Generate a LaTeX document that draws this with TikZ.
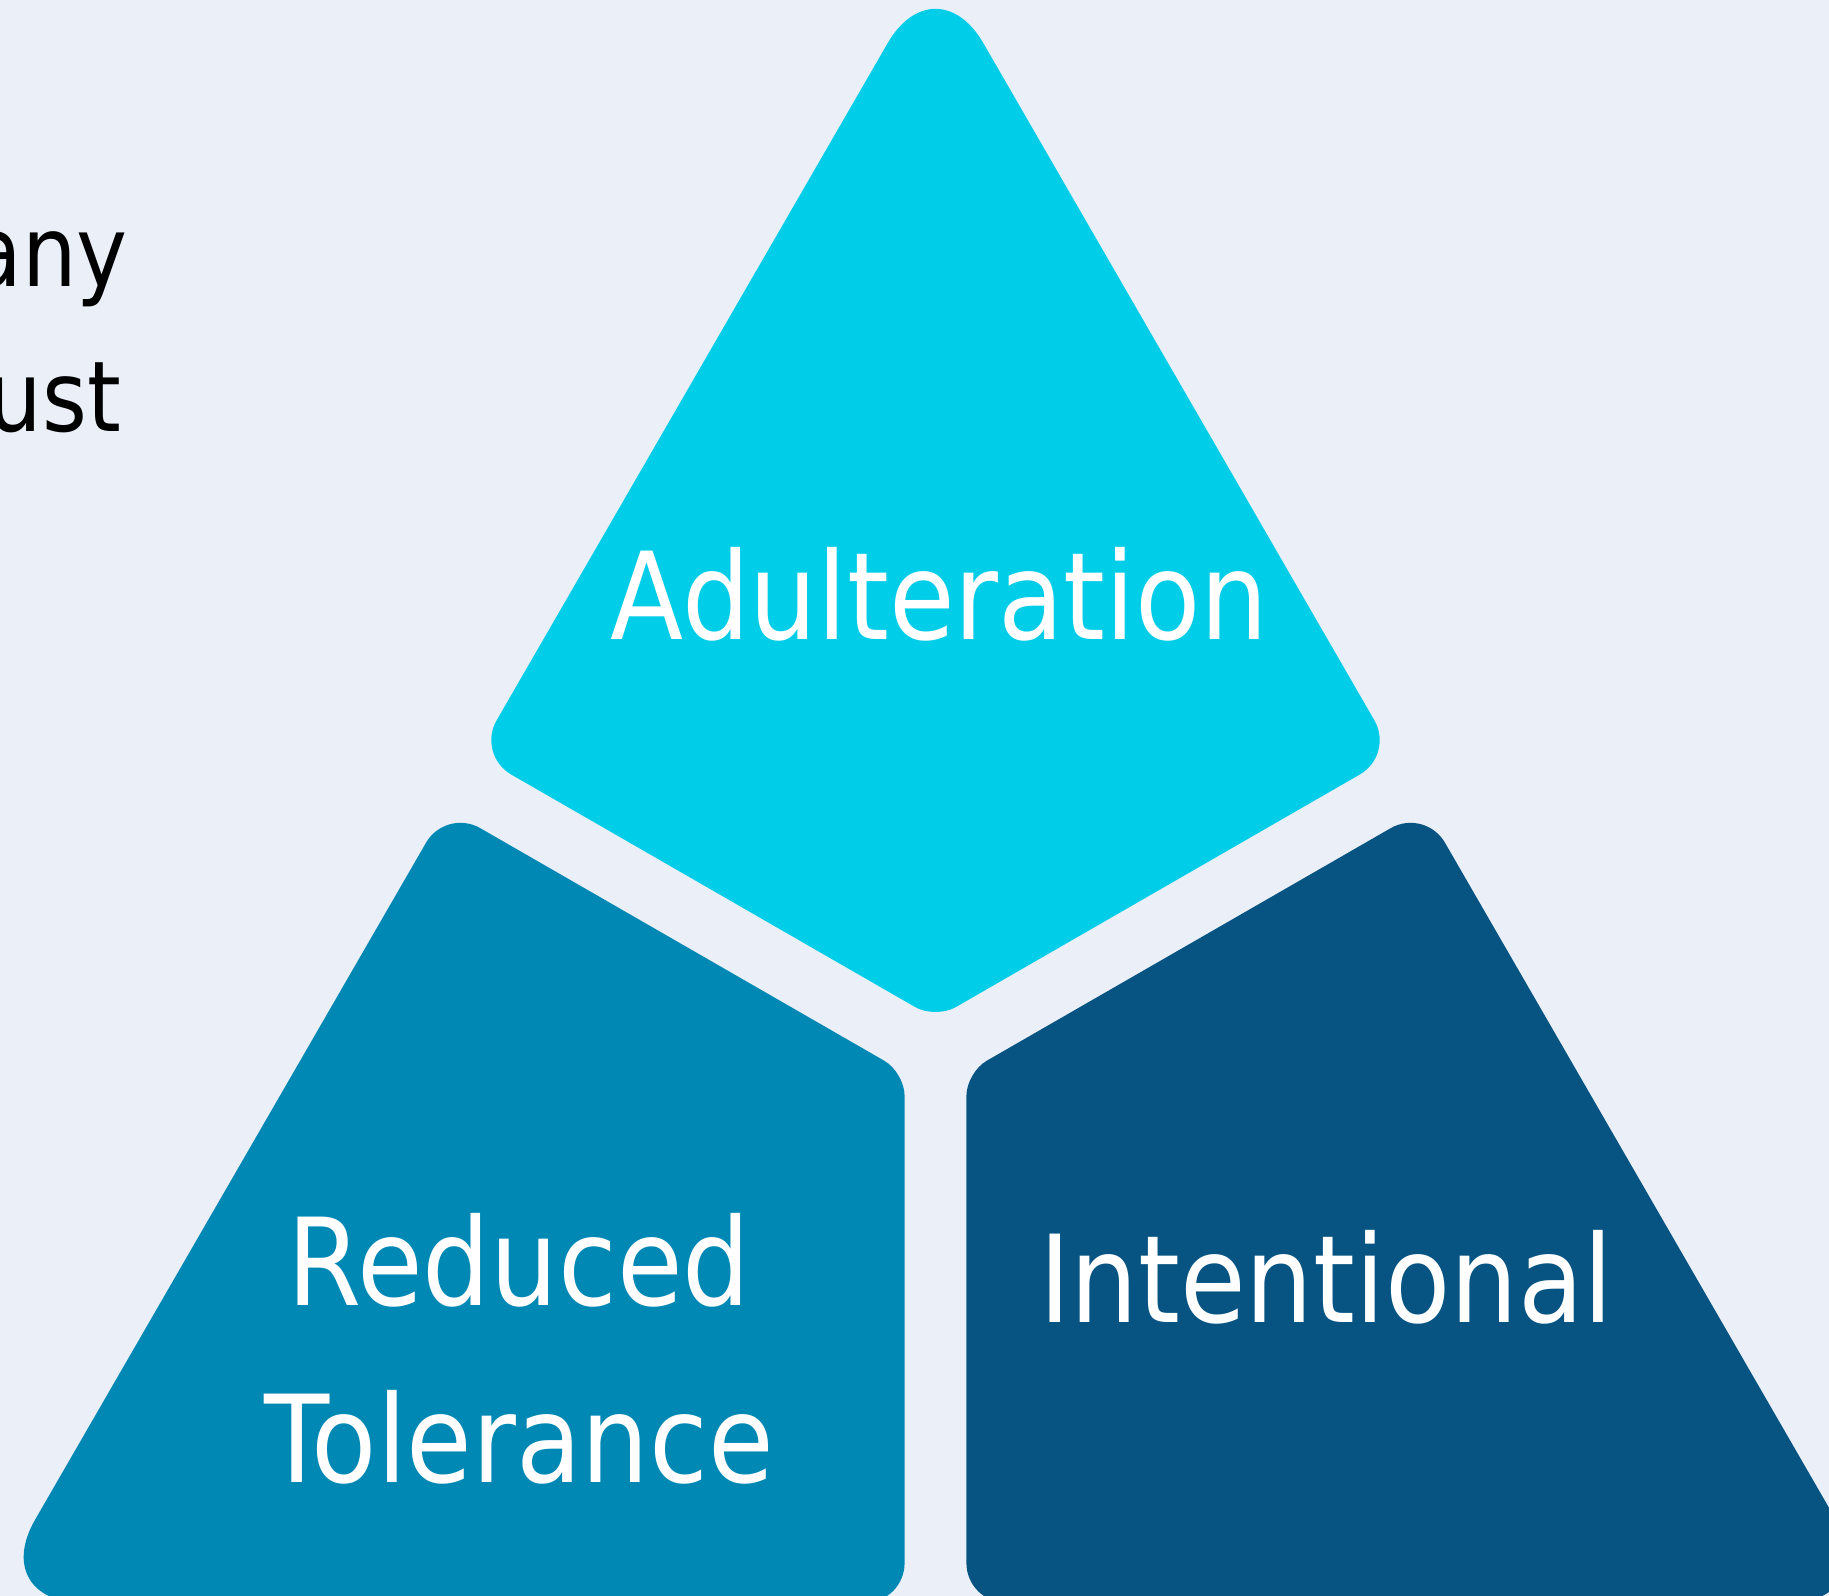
\documentclass[tikz,border=0pt]{standalone}
\usepackage{fontspec}
\usetikzlibrary{calc}
\newfontfamily\segfont[FakeStretch=0.88]{DejaVu Sans}
\definecolor{pagebg}{HTML}{EBF0F8}
\definecolor{segtop}{HTML}{00CDE8}
\definecolor{segleft}{HTML}{0088B5}
\definecolor{segright}{HTML}{075483}
\tikzset{
  seglabel/.style={text=white,font=\segfont\fontsize{52}{76}\selectfont,
    align=center,anchor=base,inner sep=0pt},
  sidetext/.style={text=black,font=\segfont\fontsize{42}{62}\selectfont,
    anchor=base east,inner sep=0pt},
  bigcorner/.style={rounded corners=41pt},
  midcorner/.style={rounded corners=17pt},
  smallcorner/.style={rounded corners=10pt}
}

\begin{document}
\begin{tikzpicture}[x=0.5pt,y=-0.5pt]
\useasboundingbox (0,0) rectangle (1568,1368);
\clip (0,0) rectangle (1568,1368);
\fill[pagebg] (0,0) rectangle (1568,1368);

% corners of the split triangle
\coordinate (A)  at (802,-34);
\coordinate (TL) at (408.75,647);
\coordinate (TB) at (802,873.4);
\coordinate (TR) at (1195.25,647);
\coordinate (BL) at (-11,1374);
\coordinate (LT) at (382.25,693);
\coordinate (LR) at (775.5,919.4);
\coordinate (LB) at (775.5,1374);
\coordinate (BR) at (1615,1374);
\coordinate (RT) at (1221.75,693);
\coordinate (RL) at (828.5,919.4);
\coordinate (RB) at (828.5,1374);

% the corner option goes in front of the segment that reaches the corner
\fill[segtop] ($(TL)!.5!(TB)$) [smallcorner] -- (TB) [midcorner] -- (TR)
  [bigcorner] -- (A) [midcorner] -- (TL) -- cycle;
\fill[segleft] ($(LT)!.5!(LR)$) [smallcorner] -- (LR) [midcorner] -- (LB)
  [bigcorner] -- (BL) [midcorner] -- (LT) -- cycle;
\fill[segright] ($(RT)!.5!(RL)$) [smallcorner] -- (RL) [midcorner] -- (RB)
  [bigcorner] -- (BR) [midcorner] -- (RT) -- cycle;

\node[seglabel] (adult) at (805.5,548) {Adulteration};
\node[seglabel] (reduced) at (445,1271) {Reduced\\Tolerance};
\node[seglabel] (intent) at (1137,1134) {Intentional};

\node[sidetext] (txtany) at (110,246) {any};
\node[sidetext] (txtust) at (104,370) {ust};
\end{tikzpicture}
\end{document}
